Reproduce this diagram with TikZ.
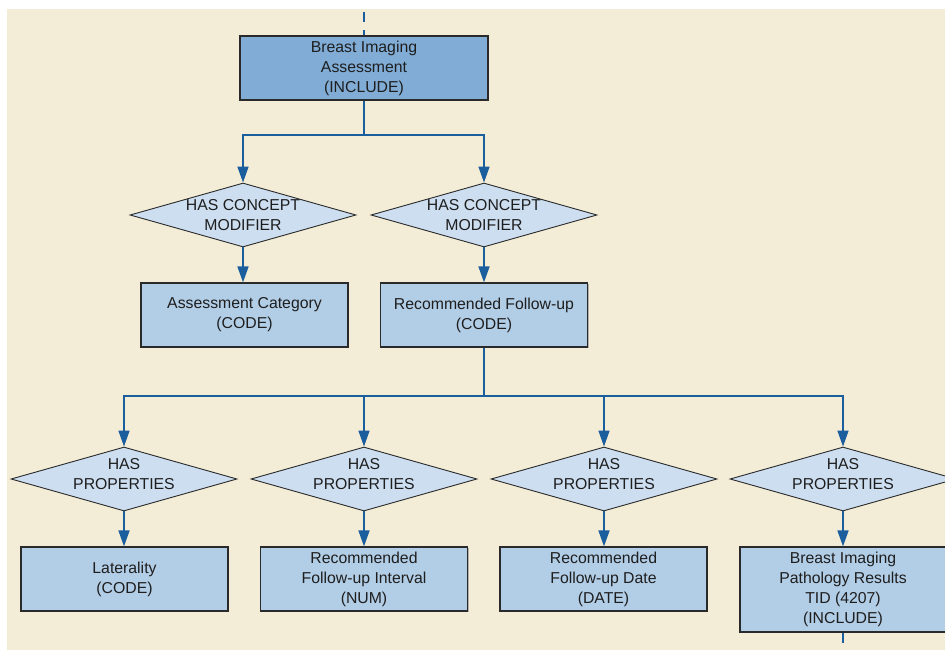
\documentclass[tikz,border=0pt]{standalone}
\usepackage{fontspec}
\setmainfont{Liberation Sans}
\usetikzlibrary{shapes.geometric,arrows.meta,shadows}

\definecolor{paper}{HTML}{F3ECD6}
\definecolor{headfill}{HTML}{80ACD6}
\definecolor{boxfill}{HTML}{B2CDE6}
\definecolor{relfill}{HTML}{CCDEF0}
\definecolor{wire}{HTML}{1B5E9E}
\definecolor{edge}{HTML}{2A2A2A}
\definecolor{ink}{HTML}{1E1E1E}

\tikzset{
  x=1pt, y=-1pt,
  txt/.style={font=\fontsize{15.8}{20}\selectfont, text=ink, align=center},
  itembox/.style={txt, rectangle, draw=edge, line width=1.2pt, fill=boxfill,
    minimum width=207pt, minimum height=64pt, inner sep=0pt,
    drop shadow={shadow xshift=1.2pt, shadow yshift=-1.2pt, fill=black!45, opacity=0.6}},
  headbox/.style={itembox, fill=headfill, minimum width=248pt},
  relation/.style={diamond, draw=edge, line width=0.9pt, fill=relfill,
    minimum width=226pt, minimum height=64pt, inner sep=0pt},
  wireline/.style={draw=wire, line width=1.6pt},
  wirearrow/.style={wireline, -{Triangle[length=16pt,width=11pt]}},
  wiredash/.style={wireline, dash pattern=on 10pt off 8pt},
}

\begin{document}
\begin{tikzpicture}
  % page and backdrop
  \useasboundingbox (0,0) rectangle (945,650);
  \fill[white] (0,0) rectangle (945,650);
  \fill[paper] (7,9) rectangle (945,650);

  % top level
  \node[headbox] (top) at (364,68) {Breast Imaging\\Assessment\\(INCLUDE)};
  \coordinate (inA) at (364,12);
  \draw[wiredash] (inA) -- (top.north);

  % concept modifiers
  \node[relation, label={[txt]center:HAS CONCEPT\\MODIFIER}] (mod1) at (243,215) {};
  \node[relation, label={[txt]center:HAS CONCEPT\\MODIFIER}] (mod2) at (484,215) {};
  \node[itembox] (cat) at (244.5,315) {Assessment Category\\(CODE)};
  \node[itembox] (fup) at (484,315) {Recommended Follow-up\\(CODE)};

  \coordinate (j1) at (364,135);
  \draw[wireline] (top.south) -- (j1);
  \draw[wirearrow] (j1) -| (mod1.north);
  \draw[wirearrow] (j1) -| (mod2.north);
  \draw[wirearrow] (mod1.south) -- (mod1.south |- cat.north);
  \draw[wirearrow] (mod2.south) -- (fup.north);

  % properties of the recommended follow-up
  \foreach \n/\xx in {p1/124, p2/364, p3/604, p4/843}{
    \node[relation, label={[txt, yshift=5pt]center:HAS\\PROPERTIES}] (\n) at (\xx,479) {};
  }
  \node[itembox] (lat) at (124.5,579) {Laterality\\(CODE)};
  \node[itembox] (ivl) at (364,579) {Recommended\\Follow-up Interval\\(NUM)};
  \node[itembox] (dat) at (603.5,579) {Recommended\\Follow-up Date\\(DATE)};
  \node[itembox, minimum width=206pt, minimum height=85pt] (pth) at (843,589.5)
    {Breast Imaging\\Pathology Results\\TID (4207)\\(INCLUDE)};

  \coordinate (j2) at (484,396);
  \draw[wireline] (fup.south) -- (j2);
  \foreach \n in {p1,p2,p3,p4}{
    \draw[wirearrow] (j2) -| (\n.north);
  }
  \draw[wirearrow] (p1.south) -- (p1.south |- lat.north);
  \draw[wirearrow] (p2.south) -- (ivl.north);
  \draw[wirearrow] (p3.south) -- (p3.south |- dat.north);
  \draw[wirearrow] (p4.south) -- (pth.north);

  \coordinate (outA) at (843,652);
  \draw[wiredash] (pth.south) -- (outA);
\end{tikzpicture}
\end{document}
